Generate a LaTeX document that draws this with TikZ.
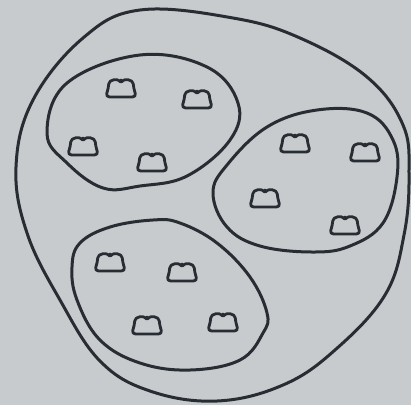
\documentclass[tikz,border=0pt]{standalone}
\usetikzlibrary{backgrounds}
\definecolor{paper}{RGB}{199,203,206}
\definecolor{ink}{RGB}{40,45,52}
\tikzset{
  outline/.style={draw=ink, line width=3pt, line join=round},
  crown/.pic={
    \draw[ink, line width=2.8pt, rounded corners=4pt, line join=round]
      (0,-5) .. controls (-3,-10) and (-12,-10) .. (-12.5,-1)
      -- (-15.5,8) -- (15.5,8) -- (12.5,-1)
      .. controls (12,-10) and (3,-10) .. (0,-5) -- cycle;
  }
}
\begin{document}
\begin{tikzpicture}[x=1pt,y=-1pt]
\fill[paper] (0,0) rectangle (411,405);
\useasboundingbox (0,0) rectangle (411,405);
% outer blob
\draw[outline] plot[smooth cycle, tension=0.65] coordinates {
  (140,10) (233,18) (300,38) (367,77) (403,125) (409,175) (404,235)
  (385,295) (335,350) (283,385) (217,401) (150,391) (100,361)
  (60,300) (27,233) (16,167) (33,100) (83,38)};
% top-left ellipse
\draw[outline] plot[smooth cycle, tension=0.65] coordinates {
  (47,133) (67,83) (140,55) (207,67) (238,103) (230,140) (187,176)
  (140,186) (103,188) (67,163)};
% right ellipse
\draw[outline] plot[smooth cycle, tension=0.65] coordinates {
  (213,193) (227,165) (267,127) (317,110) (367,113) (393,140) (397,177)
  (383,223) (350,246) (313,252) (260,246) (227,227)};
% bottom ellipse
\draw[outline] plot[smooth cycle, tension=0.65] coordinates {
  (153,220) (110,227) (80,243) (72,267) (77,300) (100,340) (140,363)
  (190,370) (240,360) (263,333) (267,313) (250,277) (217,243) (180,223)};
% crowns
\foreach \p in {(121,89),(197,100),(83,147),(152,163),
                (295,144),(365,153),(265,199),(345,226),
                (110,263),(182,273),(147,326),(223,323)}
  \pic at \p {crown};
\end{tikzpicture}
\end{document}
